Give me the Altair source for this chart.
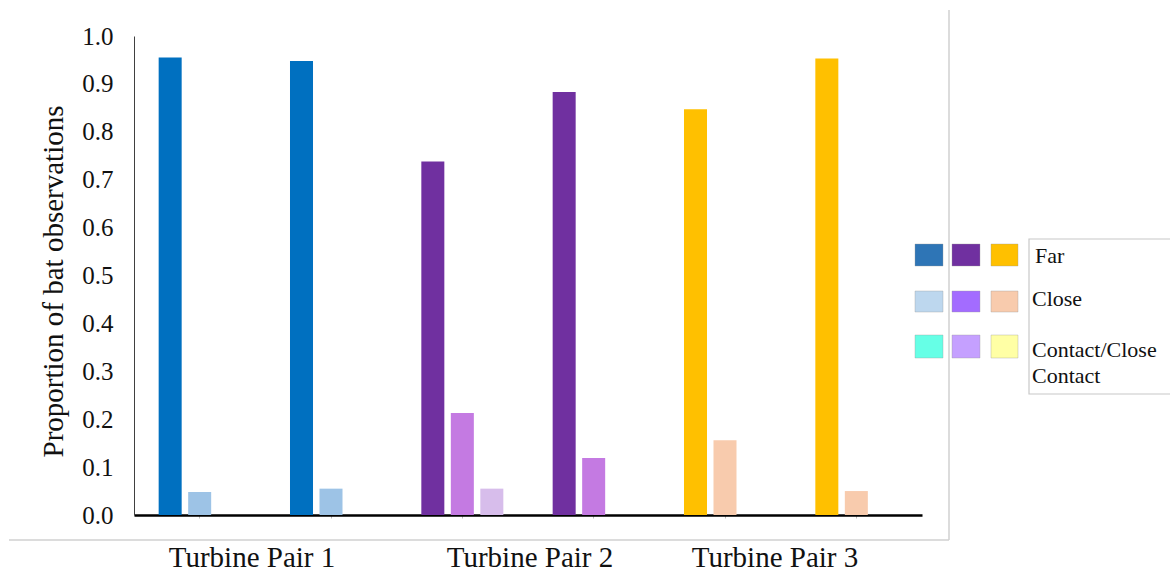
import altair as alt
import pandas as pd

# Six bar groups: two per turbine pair
groups = ["P1-A", "P1-B", "P2-A", "P2-B", "P3-A", "P3-B"]
pairs = ["Turbine Pair 1", "Turbine Pair 1", "Turbine Pair 2",
         "Turbine Pair 2", "Turbine Pair 3", "Turbine Pair 3"]
levels = ["Far", "Close", "Contact"]

far = [0.955, 0.948, 0.738, 0.883, 0.847, 0.953]
close = [0.048, 0.055, 0.213, 0.119, 0.156, 0.050]
contact = [0.0, 0.0, 0.055, 0.0, 0.0, 0.0]

pair_names = ["Turbine Pair 1", "Turbine Pair 2", "Turbine Pair 3"]
bar_colors = {
    "Turbine Pair 1": ["#0070C0", "#9DC3E6", "#66FFE6"],
    "Turbine Pair 2": ["#7030A0", "#C47AE2", "#D7BDEB"],
    "Turbine Pair 3": ["#FFC000", "#F8CBAD", "#FFFFA5"],
}
legend_colors = [
    ["#2E75B6", "#7030A0", "#FFC000"],
    ["#BDD7EE", "#A36CFF", "#F8CBAD"],
    ["#66FFE6", "#C5A0FF", "#FFFFA5"],
]
legend_labels = ["Far", "Close", "Contact/Close", "Contact"]

rows = []
for g, p, vals in zip(groups, pairs, zip(far, close, contact)):
    for lev, v in zip(levels, vals):
        if v > 0:
            rows.append({"group": g, "pair": p, "level": lev,
                         "key": f"{p}|{lev}", "value": v})
df = pd.DataFrame(rows)

color_domain = [f"{p}|{lev}" for p in pair_names for lev in levels]
color_range = [bar_colors[p][i] for p in pair_names for i in range(3)]

SERIF = "Liberation Serif"

bars = alt.Chart(df).mark_bar().encode(
    x=alt.X("group:N", sort=groups,
            scale=alt.Scale(domain=groups, paddingInner=0, paddingOuter=0),
            axis=alt.Axis(title=None, labels=False, domainColor="#000000",
                          domainWidth=2.5, tickSize=3, tickColor="#BBBBBB",
                          tickWidth=1)),
    xOffset=alt.XOffset("level:N", sort=levels,
                        scale=alt.Scale(domain=levels, paddingInner=0.22,
                                        paddingOuter=0.836)),
    y=alt.Y("value:Q",
            scale=alt.Scale(domain=[0, 1], nice=False),
            axis=alt.Axis(title="Proportion of bat observations",
                          values=[i / 10 for i in range(11)], format=".1f",
                          grid=False, ticks=False, domainColor="#404040",
                          domainWidth=1, labelFont=SERIF, labelFontSize=25,
                          labelColor="#111111", labelPadding=21,
                          titleFont=SERIF, titleFontSize=29,
                          titleFontWeight="normal", titleColor="#111111",
                          titleAngle=-90, titleAlign="center",
                          titleBaseline="alphabetic", titleX=-72, titleY=245)),
    color=alt.Color("key:N",
                    scale=alt.Scale(domain=color_domain, range=color_range),
                    legend=None),
)

layers = [bars]

# Turbine pair captions under the axis
for name, xpos in zip(pair_names, [118, 396, 641]):
    layers.append(
        alt.Chart(pd.DataFrame({"t": [name]})).mark_text(
            font=SERIF, fontSize=29, color="#111111", align="center",
            baseline="alphabetic"
        ).encode(text="t:N", x=alt.value(xpos), y=alt.value(531))
    )

# Light frame around the plotting region (right and bottom edges)
frame_color = "#D0D0D0"
layers.append(alt.Chart(pd.DataFrame({"a": [0]})).mark_rule(
    color=frame_color, strokeWidth=1.5).encode(
    x=alt.value(815), y=alt.value(-26), y2=alt.value(504)))
layers.append(alt.Chart(pd.DataFrame({"a": [0]})).mark_rule(
    color=frame_color, strokeWidth=1.5).encode(
    x=alt.value(-125), x2=alt.value(815), y=alt.value(504)))

# Legend box
layers.append(alt.Chart(pd.DataFrame({"a": [0]})).mark_rect(
    fill="white", stroke="#C8C8C8", strokeWidth=1.2).encode(
    x=alt.value(895), x2=alt.value(1045), y=alt.value(203), y2=alt.value(358)))

# Legend swatches: 3 rows x 3 colour columns
swatch_x = [(781, 809), (818, 846), (857, 884)]
swatch_y = [(208, 230), (255, 276), (299, 322)]
for r, row_cols in enumerate(legend_colors):
    for c, col in enumerate(row_cols):
        layers.append(alt.Chart(pd.DataFrame({"a": [0]})).mark_rect(
            fill=col, stroke="#9A9A9A", strokeWidth=0.6, strokeOpacity=0.6
        ).encode(
            x=alt.value(swatch_x[c][0]), x2=alt.value(swatch_x[c][1]),
            y=alt.value(swatch_y[r][0]), y2=alt.value(swatch_y[r][1])))

# Legend labels
for label, (lx, ly) in zip(legend_labels,
                           [(901, 227), (898, 270), (898, 321), (898, 347)]):
    layers.append(alt.Chart(pd.DataFrame({"t": [label]})).mark_text(
        font=SERIF, fontSize=22, color="#111111", align="left",
        baseline="alphabetic"
    ).encode(text="t:N", x=alt.value(lx), y=alt.value(ly)))

chart = alt.layer(*layers).properties(
    width=788, height=479,
    padding={"left": 134, "top": 36, "right": 248, "bottom": 58},
    autosize=alt.AutoSizeParams(type="none"),
    background="white",
).configure_view(stroke=None)

chart.save("out.html", embed_options={"renderer": "svg", "actions": False})
